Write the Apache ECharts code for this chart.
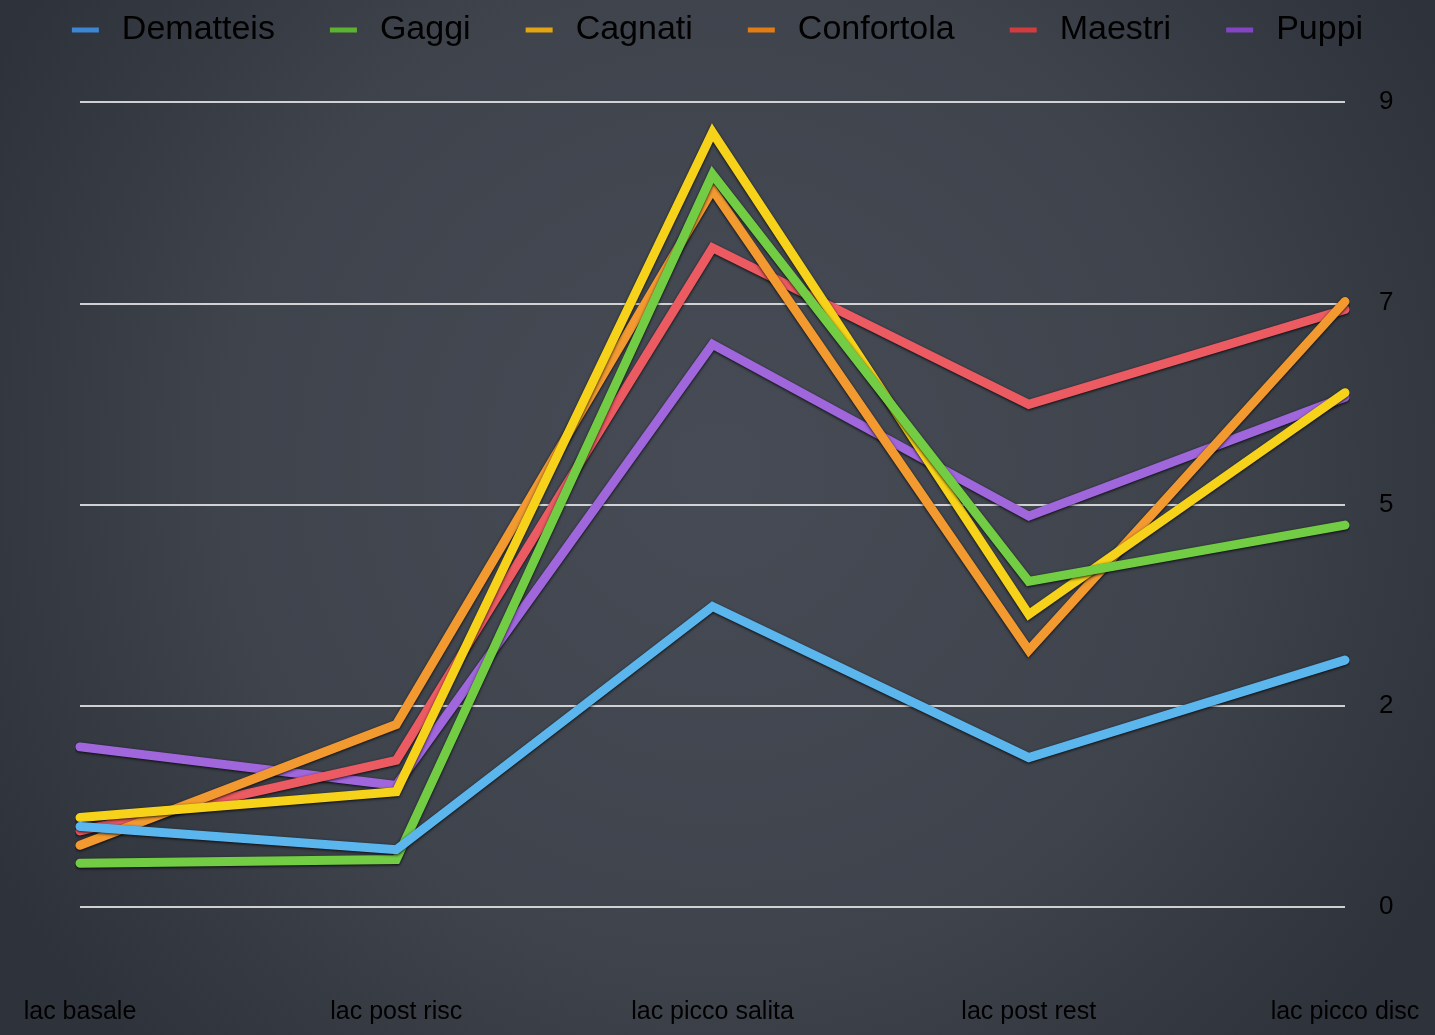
<!DOCTYPE html>
<html>
<head>
<meta charset="utf-8">
<title>lac</title>
<script src="https://cdn.jsdelivr.net/npm/echarts@6/dist/echarts.min.js"></script>
<style>
    html, body { margin: 0; padding: 0; }
    #main { width: 1435px; height: 1035px; }
</style>
</head>
<body>
<div id="main"></div>
<script>
    // categorie e valori
    const categories = ['lac basale', 'lac post risc', 'lac picco salita', 'lac post rest', 'lac picco disc']
    const dematteis = [0.9, 0.64, 3.36, 1.67, 2.76]
    const gaggi = [0.49, 0.53, 8.19, 3.64, 4.27]
    const cagnati = [1.0, 1.29, 8.66, 3.27, 5.75]
    const confortola = [0.69, 2.04, 8.02, 2.87, 6.77]
    const maestri = [0.85, 1.64, 7.37, 5.62, 6.68]
    const puppi = [1.79, 1.36, 6.29, 4.37, 5.7]
    const yMax = 9
    const yStep = 2.25

    const names = ['Dematteis', 'Gaggi', 'Cagnati', 'Confortola', 'Maestri', 'Puppi']
    const values = [dematteis, gaggi, cagnati, confortola, maestri, puppi]
    const lineColors = ['#5cb6ee', '#72cc44', '#f6d21a', '#f29a30', '#ec5a62', '#a066dc']
    const iconColors = ['#3d86d4', '#5eb232', '#e2a412', '#e27c14', '#d23c3e', '#8444c4']

    const chartDom = document.getElementById('main')
    const myChart = echarts.init(chartDom)

    const series = names.map(function(name, i) {
        return {
            type: 'line',
            name: name,
            data: values[i],
            z: 10 - i,
            symbol: 'none',
            lineStyle: {
                width: 9,
                color: lineColors[i],
                cap: 'round',
                join: 'miter',
                shadowColor: 'rgba(0,0,0,0.85)',
                shadowBlur: 3,
                shadowOffsetY: 1
            },
            itemStyle: { color: lineColors[i] }
        }
    })

    const option = {
        backgroundColor: {
            type: 'radial',
            x: 0.5, y: 0.45, r: 0.8,
            colorStops: [
                { offset: 0, color: '#464b55' },
                { offset: 0.6, color: '#3e434c' },
                { offset: 1, color: '#2e323a' }
            ]
        },
        animation: false,
        textStyle: { fontFamily: 'Liberation Sans, Arial, sans-serif' },
        legend: {
            top: 8,
            left: 'center',
            itemGap: 55,
            itemWidth: 27,
            itemHeight: 5,
            icon: 'rect',
            textStyle: { color: '#000', fontSize: 34, padding: [0, 0, 0, 18] },
            data: names.map(function(name, i) {
                return { name: name, itemStyle: { color: iconColors[i] } }
            })
        },
        grid: {
            left: 80,
            right: 90,
            top: 102,
            bottom: 128
        },
        xAxis: {
            type: 'category',
            data: categories,
            boundaryGap: false,
            axisLine: { show: false },
            axisTick: { show: false },
            axisLabel: {
                color: '#000',
                fontSize: 25,
                margin: 93,
                interval: 0
            }
        },
        yAxis: {
            type: 'value',
            position: 'right',
            min: 0,
            max: yMax,
            interval: yStep,
            axisLine: { show: false },
            axisTick: { show: false },
            axisLabel: {
                color: '#000',
                fontSize: 26,
                margin: 34,
                align: 'left',
                formatter: function(v) { return Math.round(v) }
            },
            splitLine: {
                lineStyle: { color: 'rgba(235,235,235,0.85)', width: 2 }
            }
        },
        series: series
    }
    option && myChart.setOption(option)
</script>
</body>
</html>
